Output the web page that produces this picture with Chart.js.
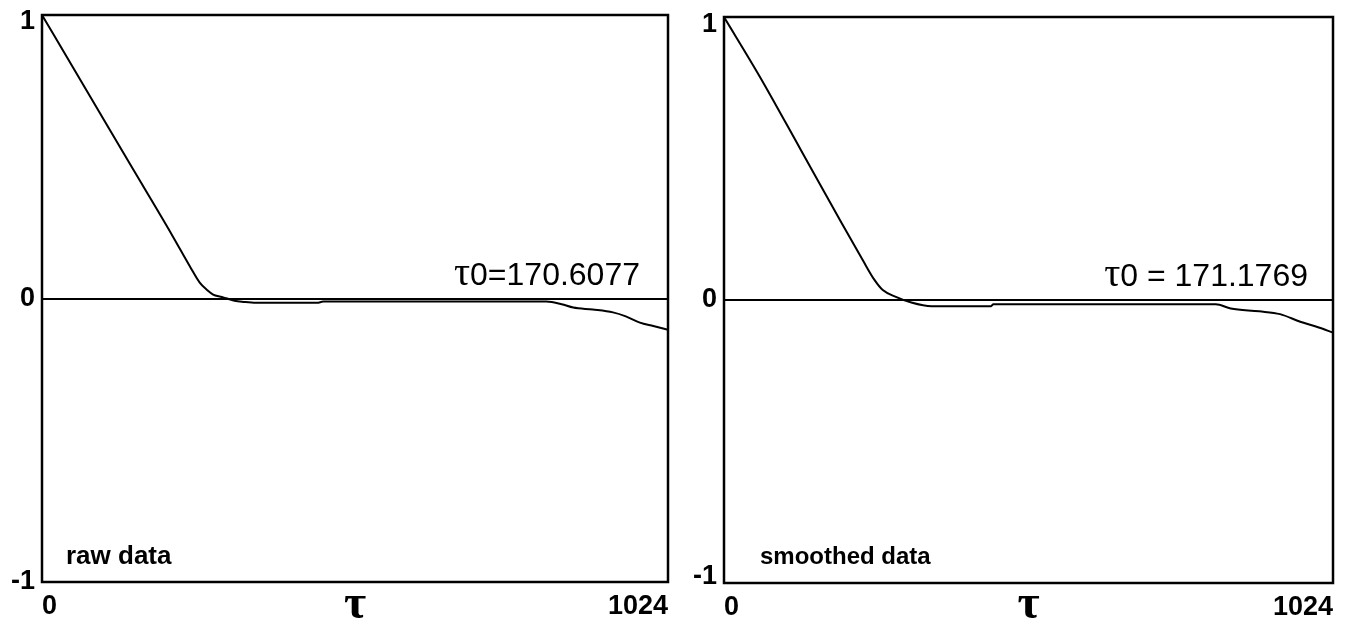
<!DOCTYPE html>
<html>
<head>
<meta charset="utf-8">
<script src="https://cdn.jsdelivr.net/npm/chart.js@4/dist/chart.umd.min.js"></script>
<style>
  html, body { margin: 0; padding: 0; background: #fff; }
  #wrap { position: relative; width: 1361px; height: 626px; overflow: hidden; }
  .box { position: absolute; top: 0; height: 626px; }
  #b1 { left: 0; width: 680px; }
  #b2 { left: 680px; width: 681px; }
</style>
</head>
<body>
<div id="wrap">
  <div class="box" id="b1"><canvas id="c1"></canvas></div>
  <div class="box" id="b2"><canvas id="c2"></canvas></div>
</div>
<script>
// ---- data ----
const xTickValues = [0, 1024];
const xTickLabels = ['0', '1024'];
const yTickValues = [-1, 0, 1];
const yTickLabels = ['-1', '0', '1'];

const rawTau = [0, 51, 106, 160, 214, 242, 258, 270, 280, 292, 303, 315, 330, 350, 450, 460, 825, 850, 869, 901, 934, 955, 978, 1000, 1024];
const rawR   = [1, 0.814, 0.613, 0.416, 0.219, 0.113, 0.056, 0.03, 0.014, 0.006, 0.0, -0.008, -0.012, -0.015, -0.015, -0.011, -0.011, -0.02, -0.032, -0.039, -0.049, -0.063, -0.085, -0.097, -0.11];

const smTau = [0, 60, 129, 198, 233, 253, 267, 288, 315, 349, 449, 453, 827, 852, 900, 935, 969, 1000, 1024];
const smR   = [1, 0.79, 0.531, 0.271, 0.142, 0.071, 0.035, 0.012, -0.009, -0.022, -0.022, -0.015, -0.015, -0.03, -0.04, -0.05, -0.077, -0.097, -0.115];

const axisTitle = 'τ';
const rawLabel = 'raw data';
const smLabel = 'smoothed data';
const rawTau0 = ['τ', '0=170.6077'];
const smTau0 = ['τ', '0 = 171.1769'];

// ---- drawing ----
const SANS = '"Liberation Sans", Arial, sans-serif';
const SERIF = '"Liberation Serif", "Times New Roman", serif';

function makeChart(canvasId, tau, vals, cfg) {
  const annot = {
    id: 'annot',
    afterDraw(chart) {
      const {ctx, chartArea: a} = chart;
      ctx.save();
      // frame
      ctx.strokeStyle = '#000';
      ctx.lineWidth = 2.5;
      ctx.strokeRect(a.left, a.top, a.right - a.left, a.bottom - a.top);
      // data label
      ctx.fillStyle = '#000';
      ctx.textBaseline = 'alphabetic';
      ctx.textAlign = 'left';
      ctx.font = 'bold ' + cfg.labelSize + 'px ' + SANS;
      ctx.fillText(cfg.label, a.left + cfg.labelDx, a.bottom - cfg.labelDy);
      // tau0 text
      const y0 = chart.scales.y.getPixelForValue(0);
      ctx.font = '32px ' + SANS;
      const w2 = ctx.measureText(cfg.tau0[1]).width;
      ctx.font = '40px ' + SERIF;
      const w1 = ctx.measureText(cfg.tau0[0]).width;
      const xr = a.right - cfg.tauDx;
      ctx.fillText(cfg.tau0[0], xr - w2 - w1, y0 - 14);
      ctx.font = '32px ' + SANS;
      ctx.fillText(cfg.tau0[1], xr - w2, y0 - 14);
      ctx.restore();
    }
  };
  // label shift for end ticks is done by giving those ticks a padded line
  const yLabel = v => {
    const s = yTickLabels[yTickValues.indexOf(v)];
    if (v === 1 && cfg.topShift) return ['', s];
    if (v === -1 && cfg.botShift) return [s, ''];
    return s;
  };
  const yFont = c => {
    const v = c.tick ? c.tick.value : null;
    let lh = 1.2;
    if (v === 1 && cfg.topShift) lh = (cfg.topShift * 2) + 'px';
    if (v === -1 && cfg.botShift) lh = (cfg.botShift * 2) + 'px';
    return { family: SANS, size: 27, weight: 'bold', lineHeight: lh };
  };
  return new Chart(document.getElementById(canvasId), {
    type: 'line',
    data: {
      datasets: [{
        data: tau.map((t, i) => ({x: t, y: vals[i]})),
        borderColor: '#000',
        borderWidth: 2,
        pointRadius: 0,
        cubicInterpolationMode: 'monotone',
        fill: false
      }]
    },
    options: {
      responsive: true,
      maintainAspectRatio: false,
      animation: false,
      layout: { padding: { top: cfg.padTop, right: cfg.padRight, left: 0, bottom: 0 } },
      plugins: { legend: { display: false }, tooltip: { enabled: false } },
      scales: {
        x: {
          type: 'linear', min: 0, max: 1024,
          afterBuildTicks: s => { s.ticks = xTickValues.map(v => ({value: v})); },
          afterFit: s => { s.height = cfg.xHeight; s.paddingLeft = 0; s.paddingRight = 0; },
          grid: { display: false, drawTicks: false },
          border: { display: false },
          ticks: {
            align: 'inner', autoSkip: false, maxRotation: 0, padding: 8,
            color: '#000', font: { family: SANS, size: 27, weight: 'bold' },
            callback: (v, i) => xTickLabels[i]
          },
          title: {
            display: true, text: axisTitle, color: '#000',
            font: { family: SERIF, size: 48, weight: 'bold' },
            padding: { top: 0, bottom: -8 }
          }
        },
        y: {
          type: 'linear', min: -1, max: 1,
          afterBuildTicks: s => { s.ticks = yTickValues.map(v => ({value: v})); },
          afterFit: s => { s.width = cfg.yWidth; s.paddingTop = 0; s.paddingBottom = 0; },
          grid: {
            drawTicks: false,
            lineWidth: 2,
            color: c => (c.tick && c.tick.value === 0) ? '#000' : 'rgba(0,0,0,0)'
          },
          border: { display: false },
          ticks: {
            padding: 7, autoSkip: false,
            color: '#000', font: yFont,
            callback: v => yLabel(v)
          }
        }
      }
    },
    plugins: [annot]
  });
}

makeChart('c1', rawTau, rawR, {
  label: rawLabel, labelSize: 26, labelDx: 24, labelDy: 18, tau0: rawTau0, tauDx: 28,
  padTop: 15, padRight: 12, xHeight: 44, yWidth: 42, topShift: 7, botShift: 0
});
makeChart('c2', smTau, smR, {
  label: smLabel, labelSize: 24, labelDx: 36, labelDy: 19, tau0: smTau0, tauDx: 25,
  padTop: 17, padRight: 28, xHeight: 43, yWidth: 44, topShift: 8, botShift: 6
});
</script>
</body>
</html>
